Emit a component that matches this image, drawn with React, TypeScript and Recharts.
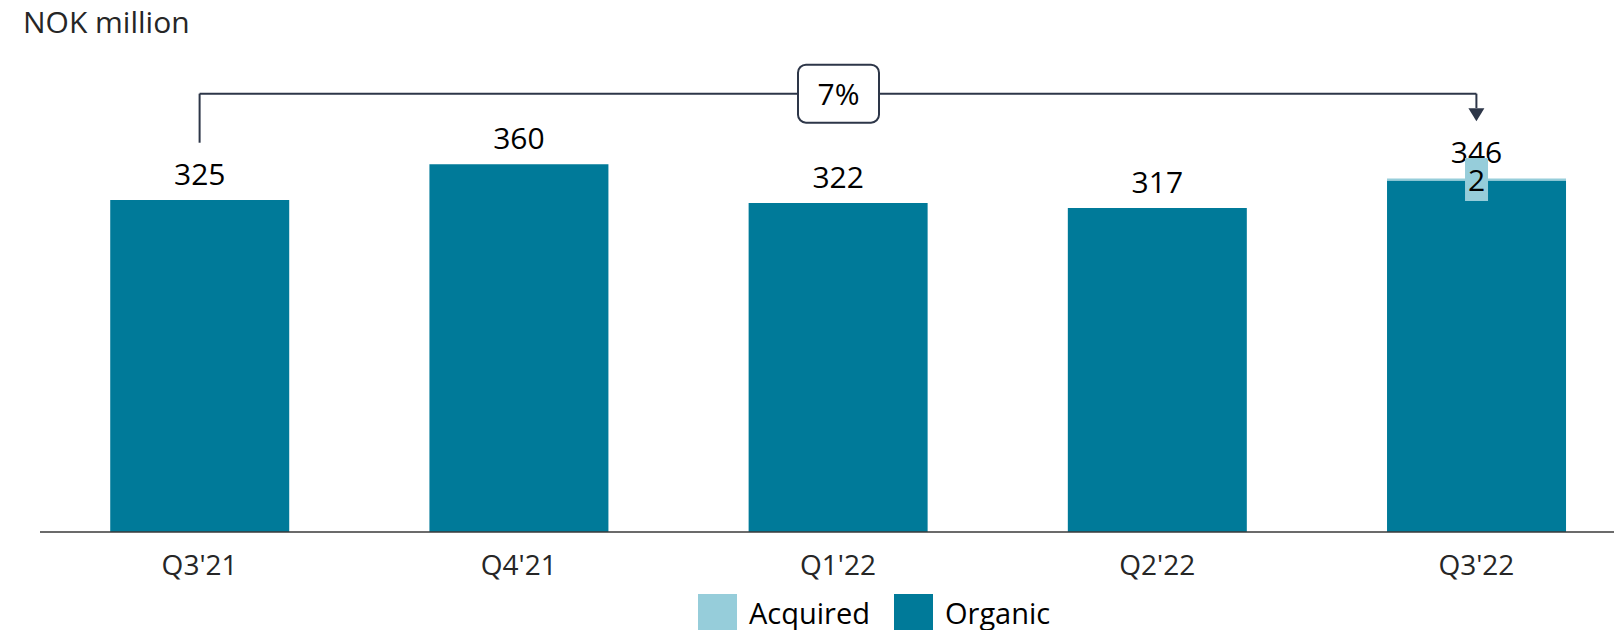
import React from 'react'
import {
  Bar,
  BarChart,
  LabelList,
  Legend,
  ReferenceDot,
  ReferenceLine,
  XAxis,
  YAxis
} from 'recharts'

const quarters = ["Q3'21", "Q4'21", "Q1'22", "Q2'22", "Q3'22"]
const organic = [325, 360, 322, 317, 344]
const acquired = [0, 0, 0, 0, 2]
const totals = [325, 360, 322, 317, 346]
const growthLabel = '7%'

const ORGANIC = '#007A99'
const ACQUIRED = '#96CDDA'
const INK = '#2D3648'
const FONT = '"Open Sans", "Noto Sans", sans-serif'

const data = quarters.map((q, i) => ({
  quarter: q,
  organic: organic[i],
  acquired: acquired[i],
  total: totals[i]
}))

// bracket levels in value units
const bracketY = 429
const leftFoot = 381
const arrowStart = 415
const arrowTip = 402

const ArrowHead = (props: any) => {
  const { cx, cy } = props
  return <path d={`M${cx - 8},${cy - 13} L${cx + 8},${cy - 13} L${cx},${cy} Z`} fill={INK} />
}

const GrowthBox = (props: any) => {
  const { cx, cy } = props
  return (
    <g>
      <rect x={cx - 40} y={cy - 29} width={81} height={58} rx={8} fill="#fff" stroke={INK} strokeWidth={2} />
      <text x={cx + 0.5} y={cy + 11} textAnchor="middle" fontSize={30} fontFamily={FONT} fill="#000">
        {growthLabel}
      </text>
    </g>
  )
}

// total above the whole stack; the organic rect gives px per unit for the acquired part
const TotalLabel = (props: any) => {
  const { x, y, width, height, index } = props
  const pxPerUnit = height / organic[index]
  const top = y - acquired[index] * pxPerUnit
  return (
    <text x={x + width / 2} y={top - 15} textAnchor="middle" fontSize={30} fontFamily={FONT} fill="#000">
      {totals[index]}
    </text>
  )
}

const AcquiredTag = (props: any) => {
  const { x, y, width, height, value } = props
  if (!value) return null
  const cx = x + width / 2
  const cy = y + height / 2
  return (
    <g>
      <rect x={cx - 11.5} y={cy - 21.5} width={23} height={43} fill={ACQUIRED} />
      <text x={cx} y={cy + 11} textAnchor="middle" fontSize={30} fontFamily={FONT} fill="#000">
        {value}
      </text>
    </g>
  )
}

const LegendContent = () => {
  const items = [
    { name: 'Acquired', color: ACQUIRED },
    { name: 'Organic', color: ORGANIC }
  ]
  return (
    <div style={{ height: 40, display: 'flex', alignItems: 'center', paddingLeft: 698, fontFamily: FONT, fontSize: 29, lineHeight: '40px', color: '#000' }}>
      {items.map((it, i) => (
        <div key={it.name} style={{ display: 'flex', alignItems: 'center', marginRight: i === 0 ? 24 : 0 }}>
          <span style={{ width: 39, height: 39, background: it.color, marginRight: 12, display: 'inline-block' }} />
          <span>{it.name}</span>
        </div>
      ))}
    </div>
  )
}

export default function App() {
  return (
    <div style={{ width: 1622, height: 638, overflow: 'hidden', margin: -8, position: 'relative', background: '#fff' }}>
      <div style={{ position: 'absolute', left: 23, top: 1, fontFamily: FONT, fontSize: 30, color: '#262626', zIndex: 2 }}>
        NOK million
      </div>
      <BarChart
        width={1640}
        height={638}
        data={data}
        margin={{ top: 62, right: 4, bottom: 26, left: 40 }}
        barCategoryGap="22%"
      >
        <XAxis
          dataKey="quarter"
          tickLine={false}
          axisLine={{ stroke: '#3a3a3a', strokeWidth: 1.5 }}
          tick={{ fontSize: 28, fill: '#262626', fontFamily: FONT }}
          tickMargin={17}
          height={40}
          interval={0}
        />
        <YAxis hide domain={[0, 460]} />
        <Bar dataKey="organic" stackId="a" fill={ORGANIC} isAnimationActive={false}>
          <LabelList dataKey="organic" content={<TotalLabel />} />
        </Bar>
        <Bar dataKey="acquired" stackId="a" fill={ACQUIRED} isAnimationActive={false}>
          <LabelList dataKey="acquired" content={<AcquiredTag />} />
        </Bar>
        <ReferenceLine
          segment={[{ x: quarters[0], y: leftFoot }, { x: quarters[0], y: bracketY }]}
          stroke={INK}
          strokeWidth={2}
          ifOverflow="visible"
        />
        <ReferenceLine
          segment={[{ x: quarters[0], y: bracketY }, { x: quarters[4], y: bracketY }]}
          stroke={INK}
          strokeWidth={2}
          ifOverflow="visible"
        />
        <ReferenceLine
          segment={[{ x: quarters[4], y: bracketY }, { x: quarters[4], y: arrowStart }]}
          stroke={INK}
          strokeWidth={2}
          ifOverflow="visible"
        />
        <ReferenceDot x={quarters[4]} y={arrowTip} shape={<ArrowHead />} ifOverflow="visible" />
        <ReferenceDot x={quarters[2]} y={bracketY} shape={<GrowthBox />} ifOverflow="visible" />
        <Legend
          verticalAlign="bottom"
          content={<LegendContent />}
          wrapperStyle={{ left: 0, width: 1640, bottom: 5 }}
        />
      </BarChart>
    </div>
  )
}
